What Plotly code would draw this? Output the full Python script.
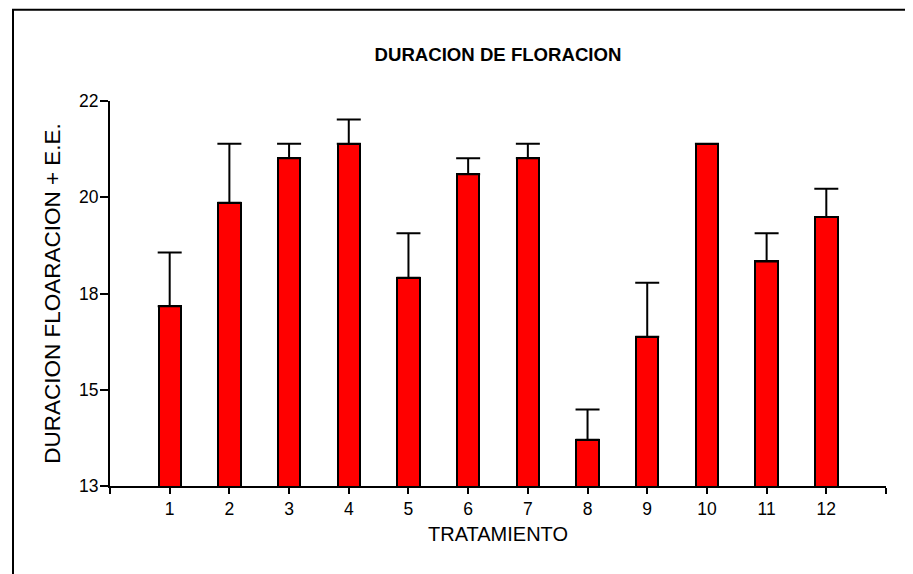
import plotly.graph_objects as go

# Data
tratamientos = [1, 2, 3, 4, 5, 6, 7, 8, 9, 10, 11, 12]
duracion = [17.20, 19.62, 20.66, 21.00, 17.87, 20.29, 20.66, 14.08, 16.49, 21.00, 18.25, 19.29]
error_top = [18.46, 21.00, 21.00, 21.57, 18.91, 20.66, 21.00, 14.79, 17.75, 21.00, 18.91, 19.95]
ee = [round(t - v, 2) for t, v in zip(error_top, duracion)]

y_tickvals = [13, 15.25, 17.5, 19.75, 22]
y_ticktext = ["13", "15", "18", "20", "22"]
x_tickvals = list(range(0, 14))
x_ticktext = [""] + [str(t) for t in tratamientos] + [""]

# page body has an 8px margin, so the figure is offset by 8px
W, H = 905, 566
L, R, T, B = 102, 27, 92.7, 88
FONT = "Arial, Liberation Sans, sans-serif"

fig = go.Figure()
fig.add_trace(go.Bar(
    x=tratamientos,
    y=duracion,
    width=0.375,
    marker=dict(color="#FF0000", line=dict(color="black", width=2)),
    error_y=dict(type="data", array=ee, arrayminus=[0] * len(ee), symmetric=False,
                 color="black", thickness=2, width=12),
    showlegend=False,
))

pw = W - L - R
ph = H - T - B
# decorative frame (left and top border lines)
fx = (5 - L) / pw
fy = 1 + (T - 1.5) / ph
fbot = -(B + 5) / ph
fig.add_shape(type="path", xref="paper", yref="paper",
              path=f"M {fx} {fbot} L {fx} {fy} L {1 + (R + 5) / pw} {fy}",
              line=dict(color="black", width=2))

fig.update_layout(
    width=W, height=H,
    margin=dict(l=L, r=R, t=T, b=B, autoexpand=False),
    paper_bgcolor="white", plot_bgcolor="white",
    font=dict(family=FONT, color="black", size=17.5),
    title=dict(text="<b>DURACION DE FLORACION</b>", x=0.5, xanchor="center",
               xref="paper", y=1 - 46.5 / H, yanchor="middle", yref="container",
               font=dict(family=FONT, size=18.6, color="black")),
    bargap=0,
)
fig.update_xaxes(
    range=[0, 13], tickvals=x_tickvals, ticktext=x_ticktext,
    showline=True, linecolor="black", linewidth=2,
    ticks="outside", ticklen=6, tickwidth=2, tickcolor="black",
    showgrid=False, zeroline=False, ticklabelstandoff=0,
    title=dict(text="TRATAMIENTO", font=dict(size=20), standoff=9),
    automargin=False,
)
fig.update_yaxes(
    range=[13, 22], tickvals=y_tickvals, ticktext=y_ticktext,
    showline=True, linecolor="black", linewidth=2,
    ticks="outside", ticklen=8, tickwidth=2, tickcolor="black",
    showgrid=False, zeroline=False, ticklabelstandoff=-2,
    title=dict(text="DURACION FLOARACION + E.E.", font=dict(size=22.5), standoff=12),
    automargin=False,
)

fig.write_html("out.html")
